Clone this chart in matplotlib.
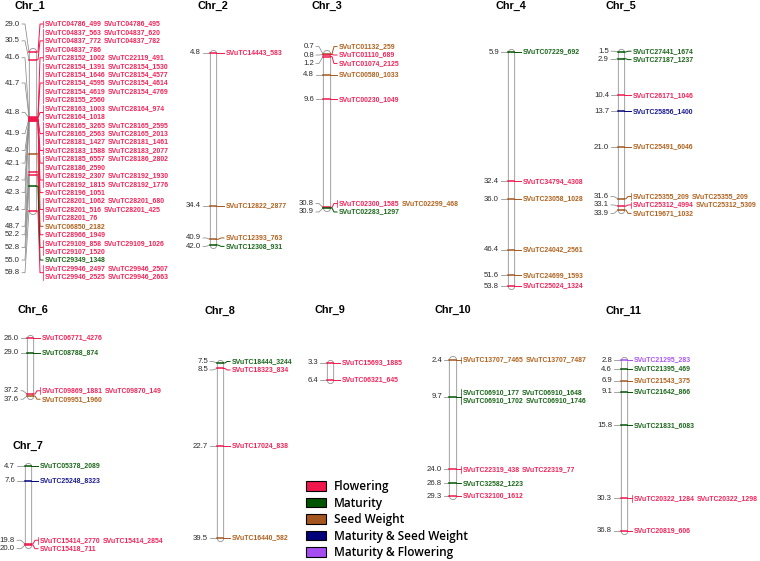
import numpy as np
import matplotlib
matplotlib.use('Agg')
import matplotlib.pyplot as plt
from matplotlib.patches import Patch

# traits: code, legend name, bar colour, text colour
trait_codes = ['F', 'M', 'S', 'MS', 'MF']
trait_names = ['Flowering', 'Maturity', 'Seed Weight', 'Maturity & Seed Weight', 'Maturity & Flowering']
trait_colors = ['#f0174c', '#005400', '#a5561e', '#00007a', '#a64df2']
text_colors = ['#f0245a', '#1b661b', '#b0621e', '#1a1a8c', '#a957f5']

# markers per chromosome: (position cM, marker, trait)
chr1 = [(29.0, 'SVuTC04786_499', 'F'), (29.0, 'SVuTC04786_495', 'F'),
        (30.5, 'SVuTC04837_563', 'F'), (30.5, 'SVuTC04837_620', 'F'), (30.5, 'SVuTC04837_772', 'F'),
        (30.5, 'SVuTC04837_782', 'F'), (30.5, 'SVuTC04837_786', 'F'),
        (41.6, 'SVuTC28152_1002', 'F'), (41.6, 'SVuTC22119_491', 'F'),
        (41.7, 'SVuTC28154_1391', 'F'), (41.7, 'SVuTC28154_1530', 'F'), (41.7, 'SVuTC28154_1646', 'F'),
        (41.7, 'SVuTC28154_4577', 'F'), (41.7, 'SVuTC28154_4595', 'F'), (41.7, 'SVuTC28154_4614', 'F'),
        (41.7, 'SVuTC28154_4619', 'F'), (41.7, 'SVuTC28154_4769', 'F'), (41.7, 'SVuTC28155_2560', 'F'),
        (41.8, 'SVuTC28163_1003', 'F'), (41.8, 'SVuTC28164_974', 'F'), (41.8, 'SVuTC28164_1018', 'F'),
        (41.9, 'SVuTC28165_3265', 'F'), (41.9, 'SVuTC28165_2595', 'F'), (41.9, 'SVuTC28165_2563', 'F'),
        (41.9, 'SVuTC28165_2013', 'F'), (41.9, 'SVuTC28181_1427', 'F'), (41.9, 'SVuTC28181_1461', 'F'),
        (42.0, 'SVuTC28183_1588', 'F'), (42.0, 'SVuTC28183_2077', 'F'),
        (42.1, 'SVuTC28185_6557', 'F'), (42.1, 'SVuTC28186_2802', 'F'), (42.1, 'SVuTC28186_2590', 'F'),
        (42.2, 'SVuTC28192_2307', 'F'), (42.2, 'SVuTC28192_1930', 'F'), (42.2, 'SVuTC28192_1815', 'F'),
        (42.2, 'SVuTC28192_1776', 'F'),
        (42.3, 'SVuTC28196_1051', 'F'),
        (42.4, 'SVuTC28201_1062', 'F'), (42.4, 'SVuTC28201_680', 'F'), (42.4, 'SVuTC28201_516', 'F'),
        (42.4, 'SVuTC28201_425', 'F'), (42.4, 'SVuTC28201_76', 'F'),
        (48.7, 'SVuTC06850_2182', 'S'),
        (52.2, 'SVuTC28966_1949', 'F'),
        (52.8, 'SVuTC29109_858', 'F'), (52.8, 'SVuTC29109_1026', 'F'), (52.8, 'SVuTC29107_1520', 'F'),
        (55.0, 'SVuTC29349_1348', 'M'),
        (59.8, 'SVuTC29946_2497', 'F'), (59.8, 'SVuTC29946_2507', 'F'), (59.8, 'SVuTC29946_2525', 'F'),
        (59.8, 'SVuTC29946_2663', 'F')]
chr2 = [(4.8, 'SVuTC14443_583', 'F'), (34.4, 'SVuTC12822_2877', 'S'),
        (40.9, 'SVuTC12393_763', 'S'), (42.0, 'SVuTC12308_931', 'M')]
chr3 = [(0.7, 'SVuTC01132_259', 'S'), (0.8, 'SVuTC01110_689', 'F'), (1.2, 'SVuTC01074_2125', 'F'),
        (4.8, 'SVuTC00580_1033', 'S'), (9.6, 'SVuTC00230_1049', 'F'),
        (30.8, 'SVuTC02300_1585', 'F'), (30.8, 'SVuTC02299_468', 'S'), (30.9, 'SVuTC02283_1297', 'M')]
chr4 = [(5.9, 'SVuTC07229_692', 'M'), (32.4, 'SVuTC34794_4308', 'F'), (36.0, 'SVuTC23058_1028', 'S'),
        (46.4, 'SVuTC24042_2561', 'S'), (51.6, 'SVuTC24699_1593', 'S'), (53.8, 'SVuTC25024_1324', 'F')]
chr5 = [(1.5, 'SVuTC27441_1674', 'M'), (2.9, 'SVuTC27187_1237', 'M'), (10.4, 'SVuTC26171_1046', 'F'),
        (13.7, 'SVuTC25856_1400', 'MS'), (21.0, 'SVuTC25491_6046', 'S'),
        (31.6, 'SVuTC25355_209', 'S'), (31.6, 'SVuTC25355_209', 'S'),
        (33.1, 'SVuTC25312_4994', 'F'), (33.1, 'SVuTC25312_5309', 'S'), (33.9, 'SVuTC19671_1032', 'S')]
chr6 = [(26.0, 'SVuTC06771_4276', 'F'), (29.0, 'SVuTC08788_874', 'M'),
        (37.2, 'SVuTC09869_1881', 'F'), (37.2, 'SVuTC09870_149', 'F'), (37.6, 'SVuTC09951_1960', 'S')]
chr7 = [(4.7, 'SVuTC05378_2089', 'M'), (7.6, 'SVuTC25248_8323', 'MS'),
        (19.8, 'SVuTC15414_2770', 'F'), (19.8, 'SVuTC15414_2854', 'F'), (20.0, 'SVuTC15418_711', 'F')]
chr8 = [(7.5, 'SVuTC18444_3244', 'M'), (8.5, 'SVuTC18323_834', 'F'),
        (22.7, 'SVuTC17024_838', 'F'), (39.5, 'SVuTC16440_582', 'S')]
chr9 = [(3.3, 'SVuTC15693_1885', 'F'), (6.4, 'SVuTC06321_645', 'F')]
chr10 = [(2.4, 'SVuTC13707_7465', 'S'), (2.4, 'SVuTC13707_7487', 'S'),
         (9.7, 'SVuTC06910_177', 'M'), (9.7, 'SVuTC06910_1648', 'M'),
         (9.7, 'SVuTC06910_1702', 'M'), (9.7, 'SVuTC06910_1746', 'M'),
         (24.0, 'SVuTC22319_438', 'F'), (24.0, 'SVuTC22319_77', 'F'),
         (26.8, 'SVuTC32582_1223', 'M'), (29.3, 'SVuTC32100_1612', 'F')]
chr11 = [(2.8, 'SVuTC21295_283', 'MF'), (4.6, 'SVuTC21395_469', 'M'), (6.9, 'SVuTC21543_375', 'S'),
         (9.1, 'SVuTC21642_866', 'M'), (15.8, 'SVuTC21831_6083', 'M'),
         (30.3, 'SVuTC20322_1284', 'F'), (30.3, 'SVuTC20322_1298', 'F'), (36.8, 'SVuTC20819_606', 'F')]

# layout in pixels: bar (left, right), left label edge, right label start,
# title (x, y), pixel rows of first/last marker, top limit of labels
layout = [
    ('Chr_1', chr1, (29, 36), 20, 45, (30, 6), (52, 211), 24),
    ('Chr_2', chr2, (210, 216), 201, 226, (213, 6), (53, 245), 24),
    ('Chr_3', chr3, (323, 330), 314, 339, (327, 6), (54, 208), 24),
    ('Chr_4', chr4, (508, 514), 499, 523, (511, 6), (52, 286), 24),
    ('Chr_5', chr5, (618, 624), 609, 633, (621, 6), (52, 210), 24),
    ('Chr_6', chr6, (27, 33), 19, 42, (33, 310), (338, 396), 325),
    ('Chr_7', chr7, (25, 31), 15, 40, (28, 446), (466, 545), 460),
    ('Chr_8', chr8, (217, 223), 208, 232, (220, 311), (363, 538), 325),
    ('Chr_9', chr9, (327, 333), 318, 342, (330, 310), (363, 380), 325),
    ('Chr_10', chr10, (449, 456), 442, 463, (453, 310), (360, 496), 325),
    ('Chr_11', chr11, (621, 627), 612, 634, (623, 311), (360, 531), 325),
]

W, H = 760, 561
GAP = 8.43  # label line spacing in px
FS = 4.95
fig = plt.figure(figsize=(7.6, 5.61), dpi=100)


def spread(ideal, gap, lo):
    groups = []
    for v in ideal:
        groups.append([v])
        while len(groups) > 1:
            p, g = groups[-2], groups[-1]
            ps = max(lo, np.mean(p) - gap * (len(p) - 1) / 2)
            gs = max(lo, np.mean(g) - gap * (len(g) - 1) / 2)
            if ps + gap * len(p) > gs + 1e-9:
                groups[-2] = p + g
                groups.pop()
            else:
                break
    out = []
    for g in groups:
        s = max(lo, np.mean(g) - gap * (len(g) - 1) / 2)
        out += [s + gap * k for k in range(len(g))]
    return out


for title, markers, bar, lx, rx, txy, ends, lo in layout:
    ax = fig.add_axes([0, 0, 1, 1])
    ax.set_axis_off()
    pos = [m[0] for m in markers]
    p0, p1 = min(pos), max(pos)
    b = (ends[1] - ends[0]) / (p1 - p0)
    a = ends[0] - b * p0
    ax.set_xlim(0, W)
    ax.set_ylim((H - a) / b, -a / b)
    gap = GAP / b
    lo_cm = (lo - a) / b

    ax.text(txy[0], (txy[1] - a) / b, title, ha='center', va='center',
            fontsize=7.8, fontweight='bold', family='Liberation Sans')

    # bar as capsule
    xc = (bar[0] + bar[1]) / 2
    wpx = bar[1] - bar[0]
    ax.plot([xc, xc], [p0, p1], color='#999999', lw=(wpx + 1.2) * 0.72,
            solid_capstyle='round', zorder=1)
    ax.plot([xc, xc], [p0, p1], color='white', lw=(wpx - 0.6) * 0.72,
            solid_capstyle='round', zorder=2)

    # group by position, two names per text line
    upos = sorted(set(pos))
    lines = []
    for p in upos:
        items = [(n, t) for q, n, t in markers if q == p]
        for k in range(0, len(items), 2):
            lines.append((p, items[k:k + 2]))
    ly = spread([l[0] for l in lines], gap, lo_cm)

    for p in upos:
        idx = [i for i, l in enumerate(lines) if l[0] == p]
        ys = [ly[i] for i in idx]
        ym = np.mean(ys)
        first_trait = [t for q, n, t in markers if q == p][0]
        col = trait_colors[trait_codes.index(first_trait)]
        nnames = sum(len(lines[i][1]) for i in idx)
        # marker on bar
        ax.plot([bar[0], bar[1]], [p, p], color=col, lw=1.1, zorder=3)
        # left position label with grey connector
        ax.plot([lx + 2, bar[0] - 4, bar[0]], [ym, ym, p], color='#8a8a8a', lw=0.55, zorder=2)
        ax.text(lx, ym, '%.1f' % p, ha='right', va='center', fontsize=5.6,
                color='#2b2b2b', family='Liberation Sans')
        # right connector
        ax.plot([bar[1], bar[1] + 2, rx - 5, rx - 2], [p, p, ym, ym], color=col, lw=0.7, zorder=3)
        if nnames > 1:
            half = 3.3 / b
            ax.plot([rx - 2, rx - 2], [ys[0] - half, ys[-1] + half], color=col, lw=0.5)
        for i in idx:
            prev = None
            for n, t in lines[i][1]:
                tc = text_colors[trait_codes.index(t)]
                if prev is None:
                    prev = ax.text(rx, ly[i], n, ha='left', va='center', fontsize=FS,
                                   fontweight='bold', color=tc, family='Liberation Sans')
                else:
                    ax.annotate(n, xy=(1, 0.5), xycoords=prev, xytext=(1.4, 0),
                                textcoords='offset points', ha='left', va='center',
                                fontsize=FS, fontweight='bold', color=tc, family='Liberation Sans')

handles = [Patch(facecolor=c, edgecolor='black', lw=0.8, label=n)
           for c, n in zip(trait_colors, trait_names)]
fig.legend(handles=handles, loc='upper left', bbox_to_anchor=(306 / W, 1 - 480 / H),
           frameon=False, prop={'family': 'Open Sans', 'weight': 'semibold', 'size': 8.5},
           handlelength=1.7, handleheight=0.85, handletextpad=0.65, labelspacing=0.3,
           borderpad=0, borderaxespad=0)

fig.savefig('out.png', dpi=100)
